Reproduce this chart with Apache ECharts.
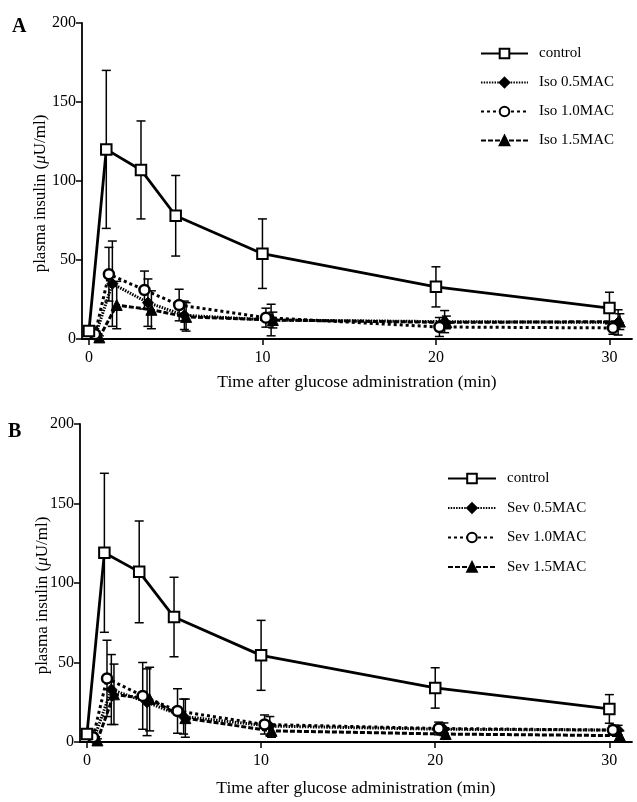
<!DOCTYPE html>
<html>
<head>
<meta charset="utf-8">
<script src="https://cdn.jsdelivr.net/npm/echarts@6/dist/echarts.min.js"></script>
<style>
html,body{margin:0;padding:0;background:#fff;}
#chart{width:637px;height:802px;}
</style>
</head>
<body>
<div id="chart"></div>
<script>
// ---------- DATA ----------
const xTickValues = [0, 10, 20, 30];
const yTickValues = [0, 50, 100, 150, 200];

// Panel A (isoflurane)
const timesControlA = [0, 1, 3, 5, 10, 20, 30];
const controlA      = [5, 120, 107, 78, 54, 33, 19.6];
const controlA_sd   = [2, 50, 31, 25.5, 22, 12.7, 10];

const timesIso05 = [0.4, 1.35, 3.4, 5.5, 10.5, 20.5, 30.5];
const iso05      = [3, 35, 23, 15, 12, 11, 10.5];
const iso05_sd   = [2, 27, 15, 9, 10, 7, 8];

const timesIso10 = [0.35, 1.15, 3.2, 5.2, 10.2, 20.2, 30.2];
const iso10      = [3, 41, 31, 21.5, 13.5, 7.6, 7];
const iso10_sd   = [2, 17, 12, 10, 6, 6, 4];

const timesIso15 = [0.6, 1.6, 3.6, 5.6, 10.6, 20.6, 30.6];
const iso15      = [1, 21.5, 18.5, 14, 12, 10.5, 11];
const iso15_sd   = [1, 15, 12, 9, 5, 4, 5];

// Panel B (sevoflurane)
const timesControlB = [0, 1, 3, 5, 10, 20, 30];
const controlB      = [5, 119, 107, 78.6, 54.5, 34, 20.8];
const controlB_sd   = [2, 50, 32, 25, 22, 12.7, 9];

const timesSev05 = [0.4, 1.4, 3.45, 5.55, 10.5, 20.5, 30.5];
const sev05      = [2, 33, 25, 16, 10, 8, 7.5];
const sev05_sd   = [2, 22, 21, 11, 6, 4, 3];

const timesSev10 = [0.35, 1.15, 3.2, 5.2, 10.2, 20.2, 30.2];
const sev10      = [3, 40, 29, 19.5, 11, 8.5, 7.5];
const sev10_sd   = [2, 24, 21, 14, 6, 4, 3];

const timesSev15 = [0.6, 1.55, 3.6, 5.65, 10.6, 20.6, 30.6];
const sev15      = [1, 30, 27, 15, 7, 5, 4];
const sev15_sd   = [1, 19, 20, 12, 4, 3, 3];

const legendA = ['control', 'Iso 0.5MAC', 'Iso 1.0MAC', 'Iso 1.5MAC'];
const legendB = ['control', 'Sev 0.5MAC', 'Sev 1.0MAC', 'Sev 1.5MAC'];

// ---------- CHART ----------
const FONT = '"Liberation Serif", "Times New Roman", serif';
const chart = echarts.init(document.getElementById('chart'), null, {renderer: 'canvas'});

function pts(t, v) { return t.map((x, i) => [x, v[i]]); }
function errs(t, v, sd) { return t.map((x, i) => [x, Math.max(0, v[i] - sd[i]), v[i] + sd[i]]); }

function errorSeries(idx, t, v, sd) {
  return {
    type: 'custom', xAxisIndex: idx, yAxisIndex: idx, z: 1, silent: true,
    data: errs(t, v, sd),
    renderItem: function (params, api) {
      const x = api.value(0);
      const lo = api.coord([x, api.value(1)]);
      const hi = api.coord([x, api.value(2)]);
      const w = 4.5;
      const st = {stroke: '#000', lineWidth: 1.5};
      return {
        type: 'group',
        children: [
          {type: 'line', shape: {x1: lo[0], y1: lo[1], x2: hi[0], y2: hi[1]}, style: st},
          {type: 'line', shape: {x1: hi[0] - w, y1: hi[1], x2: hi[0] + w, y2: hi[1]}, style: st},
          {type: 'line', shape: {x1: lo[0] - w, y1: lo[1], x2: lo[0] + w, y2: lo[1]}, style: st}
        ]
      };
    }
  };
}

const styles = {
  control: {symbol: 'rect', symbolSize: 10.5, itemStyle: {color: '#fff', borderColor: '#000', borderWidth: 2}, lineStyle: {color: '#000', width: 2.8, type: 'solid'}},
  s05: {symbol: 'diamond', symbolSize: 11, itemStyle: {color: '#000', borderColor: '#000', borderWidth: 1}, lineStyle: {color: '#000', width: 3, type: [1.5, 1.2]}},
  s10: {symbol: 'circle', symbolSize: 10, itemStyle: {color: '#fff', borderColor: '#000', borderWidth: 2.5}, lineStyle: {color: '#000', width: 3, type: [3, 3]}},
  s15: {symbol: 'triangle', symbolSize: 11, itemStyle: {color: '#000', borderColor: '#000', borderWidth: 1}, lineStyle: {color: '#000', width: 3, type: [5, 2]}}
};

function lineSeries(idx, name, t, v, st, z) {
  return Object.assign({
    type: 'line', name: name, xAxisIndex: idx, yAxisIndex: idx, z: z,
    data: pts(t, v), showSymbol: true, animation: false
  }, JSON.parse(JSON.stringify(st)));
}

function xAxisDef(idx, gap) {
  return {
    type: 'value', gridIndex: idx, min: -0.4, max: 31.3,
    name: 'Time after glucose administration (min)', nameLocation: 'middle', nameGap: gap,
    nameMoveOverlap: false,
    nameTextStyle: {fontFamily: FONT, fontSize: 17.5, color: '#000'},
    axisLine: {show: true, onZero: false, lineStyle: {color: '#000', width: 1.8}},
    axisTick: {show: true, inside: false, length: 6, customValues: xTickValues, lineStyle: {color: '#000', width: 1.5}},
    axisLabel: {customValues: xTickValues, fontFamily: FONT, fontSize: 16, color: '#000', margin: 11},
    splitLine: {show: false}
  };
}
function yAxisDef(idx, gap) {
  return {
    type: 'value', gridIndex: idx, min: 0, max: 200, interval: 50,
    name: 'plasma insulin ({mu|μ}U/ml)', nameLocation: 'middle', nameGap: gap, nameRotate: 90,
    nameMoveOverlap: false,
    nameTextStyle: {fontFamily: FONT, fontSize: 17, color: '#000', padding: [0, 25, 0, 0],
      rich: {mu: {fontFamily: FONT, fontSize: 17, fontStyle: 'italic', color: '#000'}}},
    axisLine: {show: true, onZero: false, lineStyle: {color: '#000', width: 1.8}},
    axisTick: {show: true, inside: false, length: 6, lineStyle: {color: '#000', width: 1.5}},
    axisLabel: {fontFamily: FONT, fontSize: 16, color: '#000', margin: 6},
    splitLine: {show: false}
  };
}

const option = {
  backgroundColor: '#fff',
  animation: false,
  textStyle: {fontFamily: FONT},
  grid: [
    {left: 82, top: 23, width: 550, height: 316},
    {left: 80, top: 424, width: 552, height: 318}
  ],
  title: [
    {text: 'A', left: 7, top: 12, textStyle: {fontFamily: FONT, fontSize: 20, fontWeight: 'bold', color: '#000'}},
    {text: 'B', left: 3, top: 417, textStyle: {fontFamily: FONT, fontSize: 20, fontWeight: 'bold', color: '#000'}}
  ],
  legend: [
    {data: legendA, orient: 'vertical', left: 475, top: 41, itemWidth: 47, itemHeight: 12, itemGap: 14,
     textStyle: {fontFamily: FONT, fontSize: 15, color: '#000', padding: [0, 0, 0, 6]}, selectedMode: false},
    {data: legendB, orient: 'vertical', left: 442, top: 466, itemWidth: 48, itemHeight: 12, itemGap: 14.5,
     textStyle: {fontFamily: FONT, fontSize: 15, color: '#000', padding: [0, 0, 0, 6]}, selectedMode: false}
  ],
  xAxis: [xAxisDef(0, 34), xAxisDef(1, 37)],
  yAxis: [yAxisDef(0, 33), yAxisDef(1, 29)],
  series: [
    errorSeries(0, timesControlA, controlA, controlA_sd),
    errorSeries(0, timesIso05, iso05, iso05_sd),
    errorSeries(0, timesIso10, iso10, iso10_sd),
    errorSeries(0, timesIso15, iso15, iso15_sd),
    lineSeries(0, 'Iso 1.5MAC', timesIso15, iso15, styles.s15, 3),
    lineSeries(0, 'Iso 0.5MAC', timesIso05, iso05, styles.s05, 4),
    lineSeries(0, 'Iso 1.0MAC', timesIso10, iso10, styles.s10, 5),
    lineSeries(0, 'control', timesControlA, controlA, styles.control, 6),

    errorSeries(1, timesControlB, controlB, controlB_sd),
    errorSeries(1, timesSev05, sev05, sev05_sd),
    errorSeries(1, timesSev10, sev10, sev10_sd),
    errorSeries(1, timesSev15, sev15, sev15_sd),
    lineSeries(1, 'Sev 1.5MAC', timesSev15, sev15, styles.s15, 3),
    lineSeries(1, 'Sev 0.5MAC', timesSev05, sev05, styles.s05, 4),
    lineSeries(1, 'Sev 1.0MAC', timesSev10, sev10, styles.s10, 5),
    lineSeries(1, 'control', timesControlB, controlB, styles.control, 6)
  ]
};
chart.setOption(option);
</script>
</body>
</html>
